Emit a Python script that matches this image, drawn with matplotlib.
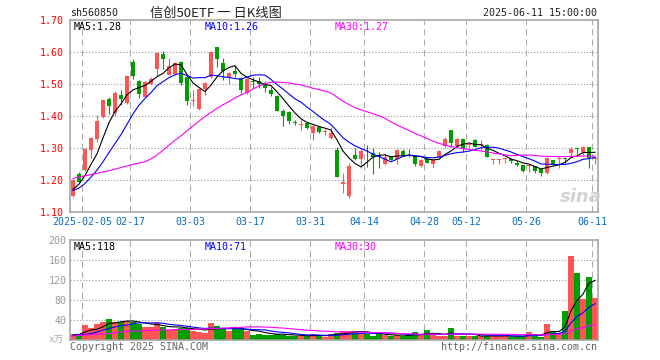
import numpy as np
import pandas as pd
import matplotlib
matplotlib.use("Agg")
import matplotlib.pyplot as plt

plt.rcParams['font.family'] = ['DejaVu Sans Mono', 'Noto Sans CJK SC']

# ---------------- data ----------------
tick_labels = ["2025-02-05", "02-17", "03-03", "03-17", "03-31",
               "04-14", "04-28", "05-12", "05-26", "06-11"]
tick_index = [2, 10, 20, 30, 40, 49, 59, 66, 76, 87]

opens = [1.152, 1.219, 1.232, 1.295, 1.328, 1.397, 1.454, 1.409, 1.466, 1.443,
         1.570, 1.509, 1.461, 1.501, 1.549, 1.595, 1.530, 1.533, 1.569, 1.522,
         1.447, 1.422, 1.484, 1.522, 1.618, 1.568, 1.519, 1.543, 1.519, 1.474,
         1.511, 1.511, 1.505, 1.482, 1.464, 1.418, 1.414, 1.382, 1.374, 1.378,
         1.348, 1.366, 1.350, 1.331, 1.295, 1.187, 1.152, 1.279, 1.266, 1.286,
         1.284, 1.276, 1.251, 1.272, 1.266, 1.293, 1.286, 1.277, 1.245, 1.267,
         1.252, 1.273, 1.308, 1.357, 1.307, 1.328, 1.310, 1.326, 1.311, 1.310,
         1.263, 1.265, 1.268, 1.266, 1.255, 1.248, 1.246, 1.245, 1.235, 1.222,
         1.264, 1.266, 1.270, 1.285, 1.300, 1.290, 1.304, 1.266]
highs = [1.203, 1.226, 1.300, 1.336, 1.404, 1.453, 1.461, 1.479, 1.482, 1.528,
         1.579, 1.514, 1.509, 1.522, 1.600, 1.604, 1.581, 1.569, 1.572, 1.529,
         1.482, 1.487, 1.508, 1.605, 1.618, 1.581, 1.540, 1.557, 1.522, 1.519,
         1.524, 1.524, 1.510, 1.492, 1.467, 1.422, 1.418, 1.390, 1.390, 1.381,
         1.372, 1.370, 1.360, 1.367, 1.304, 1.224, 1.253, 1.301, 1.302, 1.310,
         1.300, 1.290, 1.284, 1.275, 1.297, 1.297, 1.297, 1.280, 1.266, 1.270,
         1.266, 1.295, 1.334, 1.357, 1.331, 1.331, 1.318, 1.328, 1.327, 1.312,
         1.264, 1.266, 1.269, 1.270, 1.261, 1.249, 1.248, 1.246, 1.236, 1.274,
         1.265, 1.272, 1.271, 1.305, 1.301, 1.307, 1.305, 1.276]
lows = [1.149, 1.191, 1.229, 1.271, 1.321, 1.395, 1.406, 1.401, 1.435, 1.437,
        1.516, 1.458, 1.459, 1.498, 1.526, 1.547, 1.528, 1.530, 1.499, 1.435,
        1.432, 1.420, 1.466, 1.519, 1.555, 1.514, 1.501, 1.524, 1.472, 1.470,
        1.488, 1.490, 1.477, 1.462, 1.416, 1.370, 1.377, 1.372, 1.357, 1.360,
        1.326, 1.347, 1.342, 1.328, 1.209, 1.161, 1.145, 1.264, 1.238, 1.243,
        1.220, 1.237, 1.248, 1.262, 1.252, 1.276, 1.274, 1.246, 1.243, 1.253,
        1.241, 1.272, 1.300, 1.303, 1.305, 1.290, 1.300, 1.303, 1.295, 1.272,
        1.250, 1.250, 1.255, 1.255, 1.246, 1.227, 1.227, 1.224, 1.215, 1.221,
        1.250, 1.240, 1.255, 1.274, 1.282, 1.278, 1.239, 1.252]
closes = [1.201, 1.196, 1.298, 1.333, 1.385, 1.451, 1.433, 1.474, 1.453, 1.526,
          1.527, 1.469, 1.507, 1.517, 1.599, 1.580, 1.556, 1.566, 1.503, 1.449,
          1.449, 1.484, 1.503, 1.602, 1.579, 1.543, 1.536, 1.532, 1.482, 1.516,
          1.506, 1.501, 1.488, 1.470, 1.418, 1.401, 1.384, 1.380, 1.377, 1.364,
          1.369, 1.352, 1.353, 1.347, 1.211, 1.194, 1.245, 1.267, 1.293, 1.284,
          1.274, 1.273, 1.272, 1.265, 1.295, 1.279, 1.284, 1.252, 1.264, 1.255,
          1.264, 1.293, 1.329, 1.317, 1.328, 1.297, 1.313, 1.305, 1.313, 1.274,
          1.264, 1.266, 1.269, 1.259, 1.249, 1.229, 1.248, 1.230, 1.222, 1.271,
          1.251, 1.268, 1.268, 1.297, 1.297, 1.305, 1.269, 1.270]
volumes = [12, 9, 30, 25, 32, 36, 42, 36, 36, 39,
           37, 32, 26, 26, 34, 27, 21, 23, 25, 25,
           19, 16, 15, 34, 28, 22, 18, 25, 22, 18,
           11, 13, 11, 11, 12, 11, 8, 8, 8, 8,
           12, 9, 7, 12, 15, 18, 18, 18, 15, 13,
           8, 12, 10, 9, 10, 8, 10, 16, 10, 20,
           10, 8, 8, 24, 8, 8, 8, 8, 8, 9,
           8, 8, 8, 7, 7, 7, 16, 12, 7, 32,
           18, 15, 59, 169, 134, 82, 126, 84]

# moving-average values at the start of the chart (window not yet full)
ma5_head = [1.172, 1.188, 1.215, 1.250]
ma10_head = [1.168, 1.176, 1.190, 1.210, 1.232, 1.258, 1.287, 1.315, 1.343]
ma30_head = [1.206, 1.210, 1.214, 1.218, 1.222, 1.226, 1.230, 1.235, 1.240, 1.245,
             1.250, 1.254, 1.258, 1.267, 1.279, 1.294, 1.310, 1.325, 1.339, 1.355,
             1.370, 1.385, 1.399, 1.412, 1.425, 1.436, 1.446, 1.458, 1.467]
vma5_head = [10, 11, 16, 20]
vma10_head = [9, 10, 11, 13, 16, 20, 23, 26, 29]
vma30_head = [8, 9, 10, 11, 12, 12, 13, 14, 16, 17, 18, 18, 19, 19, 20, 20, 20, 21,
              21, 21, 21, 22, 22, 23, 23, 24, 24, 25, 25]

price_levels = [1.10, 1.20, 1.30, 1.40, 1.50, 1.60, 1.70]
vol_levels = [40, 80, 120, 160, 200]


def moving(values, n, head):
    out = pd.Series(values, dtype=float).rolling(n).mean().to_numpy()
    out[:len(head)] = head
    return out


ma5 = moving(closes, 5, ma5_head)
ma10 = moving(closes, 10, ma10_head)
ma30 = moving(closes, 30, ma30_head)
vma5 = moving(volumes, 5, vma5_head)
vma10 = moving(volumes, 10, vma10_head)
vma30 = moving(volumes, 30, vma30_head)

# ---------------- figure ----------------
W, H = 660, 360
fig = plt.figure(figsize=(W / 100, H / 100), dpi=100)
fig.patch.set_facecolor('white')

L, R = 70, 598
ax = fig.add_axes([L / W, 1 - 212.33 / H, (R - L) / W, 192 / H])
axv = fig.add_axes([L / W, 1 - 340 / H, (R - L) / W, 100 / H])

RED = '#ff5555'
GREEN = '#009f00'
GRID = '#aaaaaa'
FRAME = '#a0a0a0'

o = np.array(opens)
c = np.array(closes)
hi = np.array(highs)
lo = np.array(lows)
x = np.arange(len(o))
up = c >= o
cols = np.where(up, RED, GREEN)

# gridlines
xt = [i - 0.5 for i in tick_index]
for a in (ax, axv):
    for xv in xt:
        a.axvline(xv, color=GRID, lw=0.75, ls=(0, (6, 4)), zorder=0)
for lv in price_levels[1:-1]:
    ax.axhline(lv, color=GRID, lw=0.8, ls=(0, (1.2, 1.6)), zorder=0)
for lv in vol_levels[:-1]:
    axv.axhline(lv, color=GRID, lw=0.8, ls=(0, (1.2, 1.6)), zorder=0)

# candles
ax.vlines(x, lo, hi, colors=cols, lw=0.8, zorder=2)
body_bottom = np.minimum(o, c)
body_h = np.maximum(np.abs(c - o), 0.0025)
ax.bar(x, body_h, bottom=body_bottom, width=0.8, color=cols, lw=0, zorder=3)

ax.plot(x, ma5, color='black', lw=0.8, zorder=4)
ax.plot(x, ma10, color='#0000ff', lw=0.8, zorder=4)
ax.plot(x, ma30, color='#ff00ff', lw=0.8, zorder=4)

# volume
axv.bar(x, volumes, width=0.86, color=cols, lw=0, zorder=2)
axv.plot(x, vma5, color='black', lw=0.8, zorder=4)
axv.plot(x, vma10, color='#0000ff', lw=0.8, zorder=4)
axv.plot(x, vma30, color='#ff00ff', lw=0.8, zorder=4)

# axes styling
ax.set_xlim(-0.5, len(o) - 0.5)
ax.set_ylim(1.10, 1.70)
axv.set_xlim(-0.5, len(o) - 0.5)
axv.set_ylim(0, 200)

for a in (ax, axv):
    for s in a.spines.values():
        s.set_color(FRAME)
        s.set_linewidth(1.1)
    a.tick_params(length=0)

ax.set_yticks(price_levels)
ax.set_yticklabels([f"{v:.2f}" for v in price_levels], fontsize=7.2, color='#ff0000')
ax.tick_params(axis='y', pad=4.5)

ax.set_xticks(xt)
ax.set_xticklabels(tick_labels, fontsize=7.2, color='#0a6ccc')
ax.tick_params(axis='x', pad=3.5)

axv.set_yticks(vol_levels)
axv.set_yticklabels([str(v) for v in vol_levels], fontsize=7.2, color='#999999')
axv.tick_params(axis='y', pad=2.5)
axv.set_xticks([])


def ftext(px, py, s, **kw):
    fig.text(px / W, 1 - py / H, s, **kw)


# header
ftext(70, 13, "sh560850", fontsize=7.2, color='#222222', va='center', ha='left')
ftext(216, 13, "信创50ETF 一 日K线图", fontsize=9.5, color='#222222', va='center', ha='center',
      family=['Noto Sans CJK SC', 'DejaVu Sans'])
ftext(597, 13, "2025-06-11 15:00:00", fontsize=7.2, color='#222222', va='center', ha='right')

# legends price
ftext(74, 26.5, "MA5:1.28", fontsize=7.2, color='black', va='center', ha='left')
ftext(205, 26.5, "MA10:1.26", fontsize=7.2, color='#0000ff', va='center', ha='left')
ftext(335, 26.5, "MA30:1.27", fontsize=7.2, color='#ff00ff', va='center', ha='left')

# legends volume
ftext(74, 246.5, "MA5:118", fontsize=7.2, color='black', va='center', ha='left')
ftext(205, 246.5, "MA10:71", fontsize=7.2, color='#0000ff', va='center', ha='left')
ftext(335, 246.5, "MA30:30", fontsize=7.2, color='#ff00ff', va='center', ha='left')

# unit & footer
ftext(64, 339.5, "x万", fontsize=6.8, color='#aaaaaa', va='center', ha='right',
      family=['DejaVu Sans Mono', 'Noto Sans CJK SC'])
ftext(70, 347, "Copyright 2025 SINA.COM", fontsize=7.2, color='#666666', va='center', ha='left')
ftext(597, 347, "http://finance.sina.com.cn", fontsize=7.2, color='#666666', va='center', ha='right')

# watermark
ftext(581, 197, "sina", fontsize=13, color='#cfcfcf', va='center', ha='center',
      family='DejaVu Sans', style='italic', weight='bold', alpha=0.9)

fig.savefig("out.png", dpi=100, facecolor='white')
